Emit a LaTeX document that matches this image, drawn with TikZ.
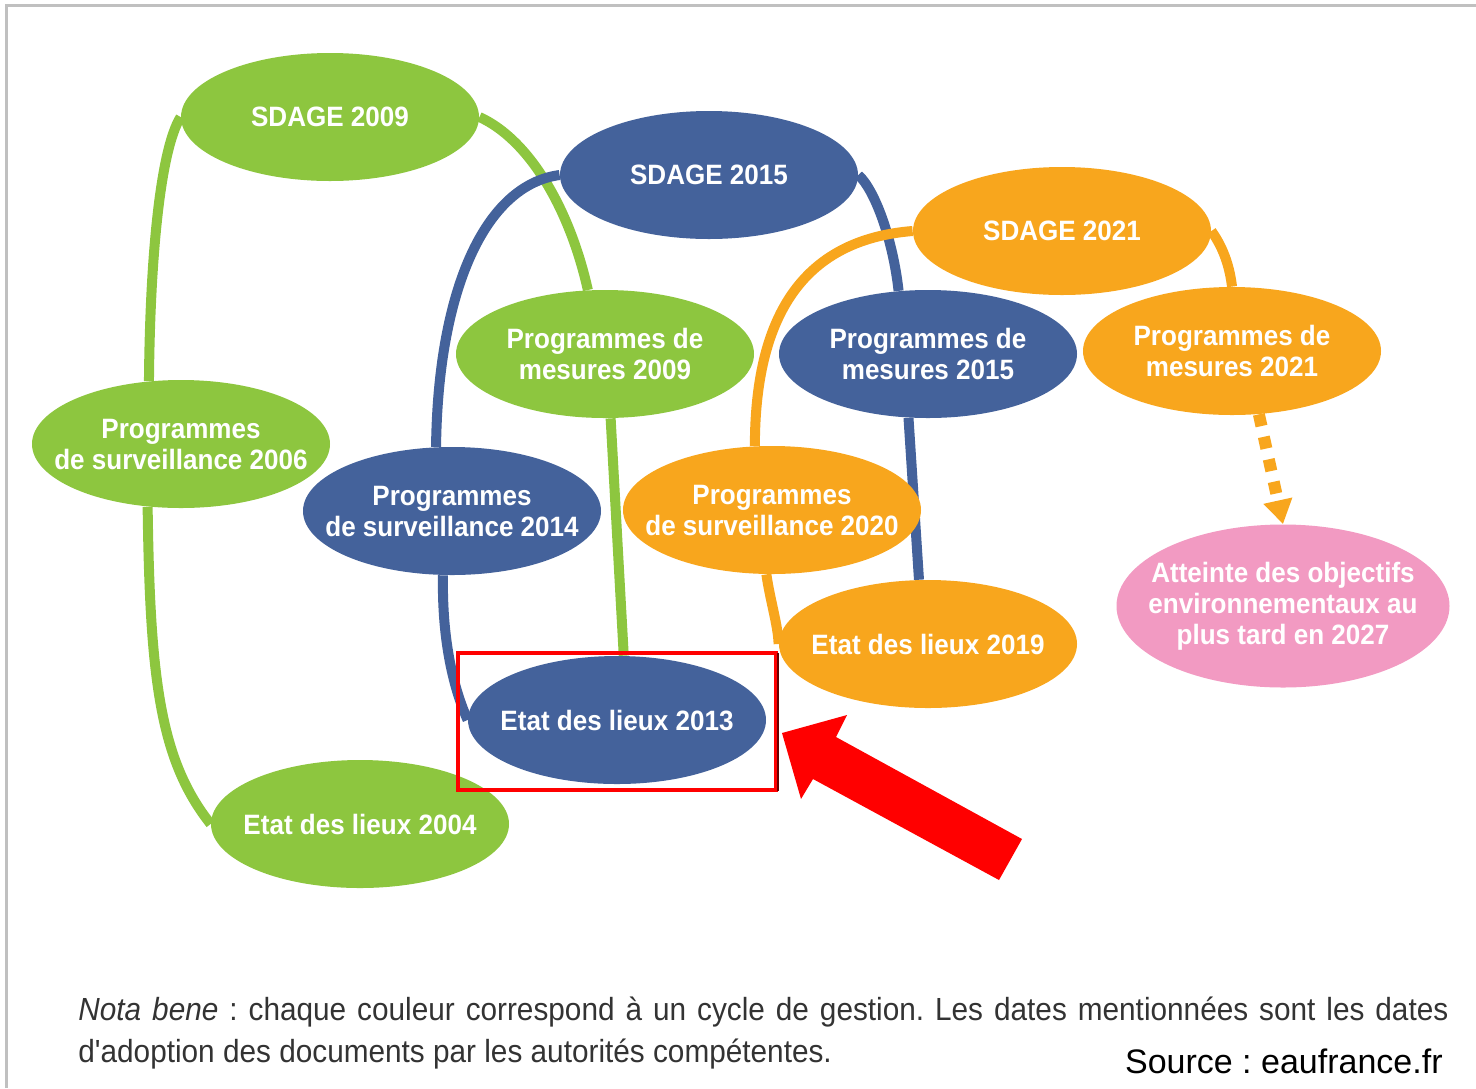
\documentclass[tikz,border=0pt]{standalone}
\usepackage{fontspec}
\setmainfont{Liberation Sans}
\newfontfamily\labelfont[FakeStretch=0.93]{Liberation Sans}
\usetikzlibrary{shapes.geometric,arrows.meta,backgrounds}
\definecolor{cycgreen}{HTML}{8DC63F}
\definecolor{cycblue}{HTML}{44629B}
\definecolor{cycorange}{HTML}{F8A61D}
\definecolor{goalpink}{HTML}{F29AC2}
\definecolor{framegray}{HTML}{C0C0C0}
\frenchspacing

\begin{document}
\begin{tikzpicture}[x=0.5pt,y=-0.5pt,
	doc/.style={ellipse, minimum width=149pt, minimum height=64pt, inner xsep=-40pt, inner ysep=-12pt,
		align=center, text=white, font=\labelfont\bfseries\fontsize{14pt}{15.5pt}\selectfont},
	link/.style={line width=5pt}]
	\useasboundingbox (0,0) rectangle (1476,1088);
	\draw[framegray, line width=1.5pt] (6.5,1088) -- (6.5,5.5) -- (1476,5.5);

	\node[doc, fill=cycgreen] (sdage09) at (330,117) {SDAGE 2009};
	\node[doc, fill=cycblue] (sdage15) at (709,175) {SDAGE 2015};
	\node[doc, fill=cycorange] (sdage21) at (1062,231) {SDAGE 2021};
	\node[doc, fill=cycgreen] (mes09) at (605,354) {Programmes de\\mesures 2009};
	\node[doc, fill=cycblue] (mes15) at (928,354) {Programmes de\\mesures 2015};
	\node[doc, fill=cycorange] (mes21) at (1232,351) {Programmes de\\mesures 2021};
	\node[doc, fill=cycgreen] (surv06) at (181,444) {Programmes\\de surveillance 2006};
	\node[doc, fill=cycblue] (surv14) at (452,511) {Programmes\\de surveillance 2014};
	\node[doc, fill=cycorange] (surv20) at (772,510) {Programmes\\de surveillance 2020};
	\node[doc, fill=cycorange] (edl19) at (928,644) {Etat des lieux 2019};
	\node[doc, fill=goalpink, minimum width=166.5pt, minimum height=81.5pt] (obj27) at (1283,606)
		{Atteinte des objectifs\\environnementaux au\\plus tard en 2027};
	\node[doc, fill=cycblue] (edl13) at (617,720) {Etat des lieux 2013};
	\node[doc, fill=cycgreen] (edl04) at (360,824) {Etat des lieux 2004};

	\begin{pgfonlayer}{background}
		% cycle 1
		\draw[link, cycgreen] (edl04.west) .. controls (160,760) and (150,680) .. (surv06.242);
		\draw[link, cycgreen] (surv06.117) .. controls (150,260) and (160,150) .. (sdage09.west);
		\draw[link, cycgreen] (sdage09.east) .. controls (530,140) and (570,210) .. (mes09.105);
		\draw[link, cycgreen] (mes09.275) -- (edl13.84);
		% cycle 2
		\draw[link, cycblue] (edl13.west) .. controls (450,680) and (442,630) .. (surv14.262);
		\draw[link, cycblue] (surv14.104) .. controls (438,290) and (485,185) .. (sdage15.west);
		\draw[link, cycblue] (sdage15.east) .. controls (875,190) and (893,240) .. (mes15.115);
		\draw[link, cycblue] (mes15.253) -- (edl19.98);
		% cycle 3
		\draw[link, cycorange] (edl19.west) .. controls (778,625) and (770,600) .. (surv20.265);
		\draw[link, cycorange] (surv20.105) .. controls (755,320) and (800,240) .. (sdage21.west);
		\draw[link, cycorange] (sdage21.east) .. controls (1225,250) and (1230,270) .. (mes21.north);
	\end{pgfonlayer}

	\draw[cycorange, line width=6pt, dash pattern=on 6pt off 5.5pt,
		-{Triangle[width=14pt,length=12pt]}] (mes21.293) -- (obj27.north);

	\draw[red, line width=2pt] (458,653) rectangle (776,790);
	\draw[black!60!red, line width=1pt] (777.5,653) -- (777.5,791);
	\fill[red] (782,733) -- (847,715) -- (836,737) -- (1022,839) -- (999,880) -- (813,779) -- (801,799) -- cycle;

	\node[anchor=base west, text width=685pt, align=justify, inner sep=0pt, text=black!80,
		font=\labelfont\fontsize{16pt}{21pt}\selectfont] (note) at (78,1020)
		{\textit{Nota bene} : chaque couleur correspond à un cycle de gestion. Les dates mentionnées sont les dates\linebreak d'adoption des documents par les autorités compétentes.};
	\node[anchor=base east, inner sep=0pt, font=\fontsize{17pt}{20pt}\selectfont] (src) at (1443,1073)
		{Source : eaufrance.fr};
\end{tikzpicture}
\end{document}
